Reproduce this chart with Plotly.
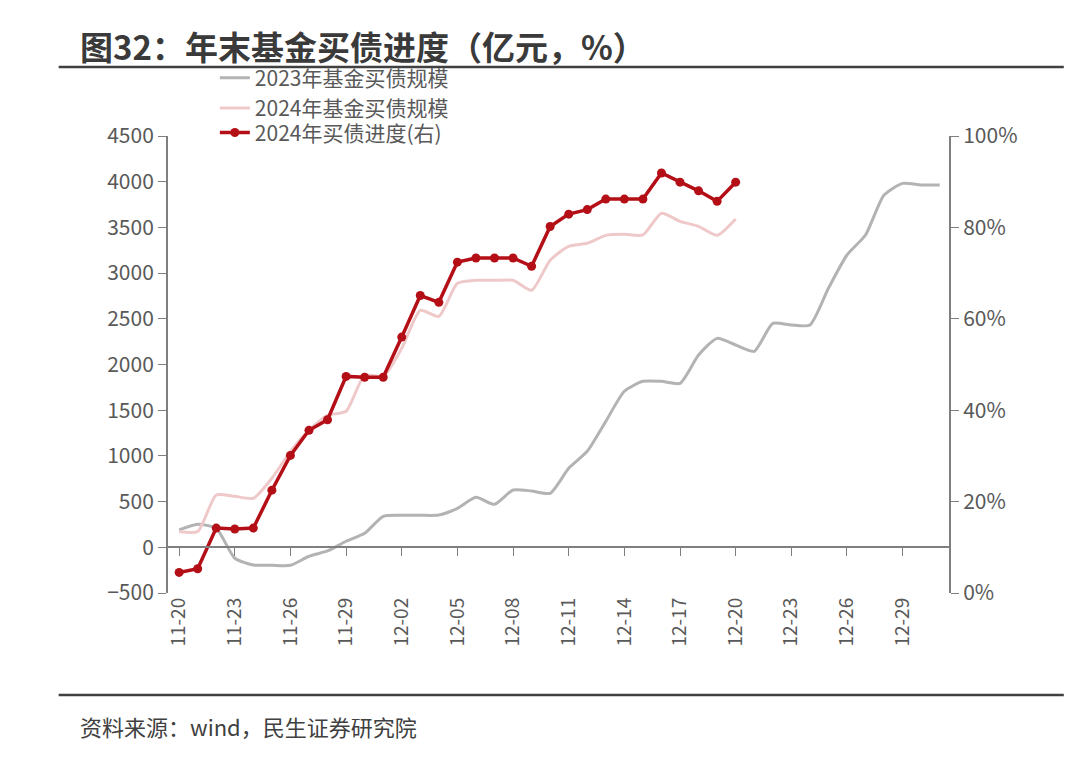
import plotly.graph_objects as go

dates = ["11-20", "11-21", "11-22", "11-23", "11-24", "11-25", "11-26", "11-27", "11-28", "11-29", "11-30",
         "12-01", "12-02", "12-03", "12-04", "12-05", "12-06", "12-07", "12-08", "12-09", "12-10",
         "12-11", "12-12", "12-13", "12-14", "12-15", "12-16", "12-17", "12-18", "12-19", "12-20",
         "12-21", "12-22", "12-23", "12-24", "12-25", "12-26", "12-27", "12-28", "12-29", "12-30", "12-31"]

scale_2023 = [190, 252, 208, -120, -193, -197, -197, -98, -40, 66, 153,
              339, 350, 350, 353, 427, 547, 470, 627, 616, 591,
              864, 1050, 1378, 1707, 1816, 1816, 1794, 2104, 2286, 2213,
              2144, 2450, 2432, 2432, 2834, 3198, 3417, 3854, 3982, 3964, 3964]

scale_2024 = [172, 172, 572, 558, 536, 755, 1050, 1280, 1444, 1488, 1882,
              1870, 2177, 2593, 2527, 2888, 2921, 2921, 2921, 2812, 3140,
              3293, 3326, 3413, 3424, 3417, 3654, 3566, 3512, 3413, 3592]

progress_2024 = [4.5, 5.3, 14.2, 14.0, 14.2, 22.5, 30.1, 35.6, 37.9, 47.4, 47.2,
                 47.2, 56.0, 65.1, 63.6, 72.4, 73.3, 73.3, 73.3, 71.5, 80.2,
                 82.9, 83.9, 86.2, 86.2, 86.2, 91.9, 89.9, 88.0, 85.7, 89.9]

tick_labels = dates[::3]

idx = list(range(len(dates)))
font = "Noto Sans CJK SC"
grey_txt = "#595959"

fig = go.Figure()
fig.add_trace(go.Scatter(x=idx, y=scale_2023, name="2023年基金买债规模", mode="lines", legend="legend",
                         line=dict(color="#b3b3b3", width=3, shape="spline", smoothing=0.6)))
fig.add_trace(go.Scatter(x=idx[:len(scale_2024)], y=scale_2024, name="2024年基金买债规模", mode="lines",
                         legend="legend",
                         line=dict(color="#efc9ca", width=3, shape="spline", smoothing=0.6)))
fig.add_trace(go.Scatter(x=idx[:len(progress_2024)], y=progress_2024, name="2024年买债进度(右)",
                         mode="lines+markers", yaxis="y2", legend="legend2",
                         line=dict(color="#b40f17", width=3.5), marker=dict(size=9, color="#b40f17")))
# invisible trace carrying the bottom label axis
fig.add_trace(go.Scatter(x=idx, y=scale_2023, xaxis="x2", mode="lines", opacity=0,
                         showlegend=False, hoverinfo="skip"))

tickvals = idx[::3]
xr = [-0.6, 41.5]
legend_font = dict(size=21, color=grey_txt)
fig.update_layout(
    width=1076, height=779,
    paper_bgcolor="white", plot_bgcolor="white",
    margin=dict(l=160, r=135, t=128, b=194, autoexpand=False),
    font=dict(family=font, size=20, color=grey_txt),
    xaxis=dict(range=xr, tickvals=tickvals, showticklabels=False, anchor="free", position=0.1007,
               showline=True, linecolor="#7f7f7f", linewidth=2, ticks="outside", ticklen=8,
               tickcolor="#7f7f7f", showgrid=False, zeroline=False),
    xaxis2=dict(range=xr, tickvals=tickvals, ticktext=tick_labels, overlaying="x", anchor="y",
                side="bottom", tickangle=-90, showline=False, showgrid=False, zeroline=False,
                tickfont=dict(size=19, color=grey_txt)),
    yaxis=dict(range=[-500, 4500], dtick=500, showline=True, linecolor="#7f7f7f", linewidth=2,
               ticks="outside", ticklen=8, tickcolor="#7f7f7f", showgrid=False, zeroline=False,
               tickfont=dict(size=21, color=grey_txt)),
    yaxis2=dict(range=[0, 100], dtick=20, ticksuffix="%", overlaying="y", side="right",
                showline=True, linecolor="#7f7f7f", linewidth=2, ticks="outside", ticklen=8,
                tickcolor="#7f7f7f", showgrid=False, zeroline=False,
                tickfont=dict(size=21, color=grey_txt)),
    legend=dict(orientation="h", x=0.06, y=1.094, xanchor="left", yanchor="middle",
                entrywidth=375, font=legend_font, bgcolor="rgba(0,0,0,0)"),
    legend2=dict(orientation="h", x=0.06, y=1.007, xanchor="left", yanchor="middle",
                 font=legend_font, bgcolor="rgba(0,0,0,0)"),
    showlegend=True,
)

fig.add_annotation(text="<b>图32：年末基金买债进度（亿元，%）</b>", xref="paper", yref="paper",
                   x=-0.115, y=1.197, xanchor="left", yanchor="middle", showarrow=False,
                   font=dict(size=33, color="#3a3a3a", family=font))
fig.add_annotation(text="资料来源：wind，民生证券研究院", xref="paper", yref="paper",
                   x=-0.115, y=-0.29, xanchor="left", yanchor="middle", showarrow=False,
                   font=dict(size=22, color="#404040", family=font))
fig.add_shape(type="line", xref="paper", yref="paper", x0=-0.14, x1=1.147, y0=1.151, y1=1.151,
              line=dict(color="#404040", width=2.5))
fig.add_shape(type="line", xref="paper", yref="paper", x0=-0.14, x1=1.147, y0=-0.223, y1=-0.223,
              line=dict(color="#404040", width=2.5))

fig.write_html("out.html")
